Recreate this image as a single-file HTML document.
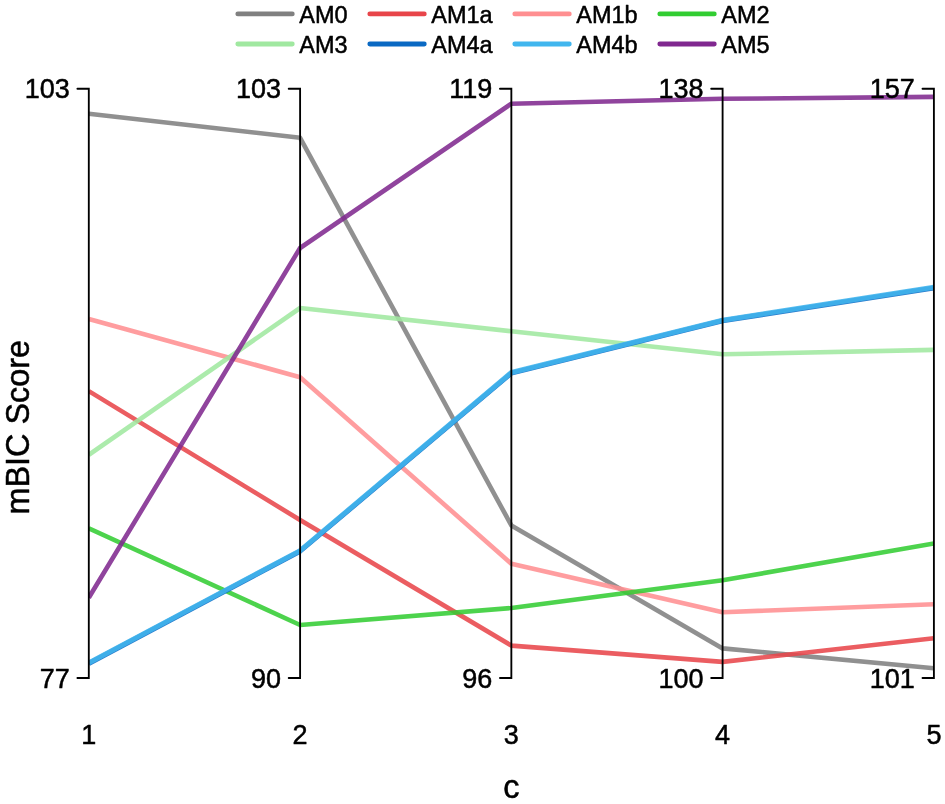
<!DOCTYPE html>
<html><head><meta charset="utf-8"><title>mBIC Score</title>
<style>
html,body{margin:0;padding:0;background:#fff;}
svg{display:block;}
text{font-family:"Liberation Sans",Arial,sans-serif;fill:#000;stroke:#000;stroke-width:0.5px;stroke-linejoin:round;}
.t{font-size:27px;}
.l{font-size:23.5px;}
.a{font-size:32.4px;}
</style></head><body>
<svg width="945" height="804" viewBox="0 0 945 804">
<rect width="945" height="804" fill="#fff"/>
<defs><clipPath id="c"><rect x="88.80" y="0" width="845.10" height="804"/></clipPath></defs>
<g clip-path="url(#c)" fill="none" stroke-width="4.60" stroke-linejoin="round" stroke-linecap="butt" stroke-opacity="0.87">
<polyline points="88.80,113.70 300.10,137.80 511.35,525.40 722.60,648.40 933.90,668.30" stroke="#808080"/>
<polyline points="88.80,391.10 300.10,520.00 511.35,645.60 722.60,661.90 933.90,638.30" stroke="#e8454a"/>
<polyline points="88.80,319.00 300.10,377.20 511.35,563.80 722.60,612.20 933.90,604.30" stroke="#ff8f91"/>
<polyline points="88.80,528.30 300.10,625.00 511.35,608.00 722.60,580.30 933.90,543.40" stroke="#32cd32"/>
<polyline points="88.80,454.80 300.10,308.00 511.35,331.30 722.60,354.30 933.90,349.90" stroke="#a0e8a0"/>
<polyline points="88.80,663.50 300.10,551.20 511.35,373.10 722.60,320.80 933.90,287.90" stroke="#0a69c3" stroke-width="5"/>
<polyline points="88.80,662.90 300.10,550.60 511.35,372.50 722.60,320.20 933.90,287.30" stroke="#41b6ee" stroke-width="5"/>
<polyline points="88.80,597.70 300.10,248.00 511.35,103.70 722.60,98.80 933.90,96.90" stroke="#80288f"/>
</g>
<g stroke="#000" stroke-width="1.85" fill="none" stroke-linecap="round">
<path d="M77.40 88.70H88.80V678.00H77.40"/>
<path d="M288.70 88.70H300.10V678.00H288.70"/>
<path d="M499.95 88.70H511.35V678.00H499.95"/>
<path d="M711.20 88.70H722.60V678.00H711.20"/>
<path d="M922.50 88.70H933.90V678.00H922.50"/>
</g>
<text class="t" text-anchor="end" x="69.70" y="98.20">103</text>
<text class="t" text-anchor="end" x="69.70" y="687.50">77</text>
<text class="t" text-anchor="end" x="281.00" y="98.20">103</text>
<text class="t" text-anchor="end" x="281.00" y="687.50">90</text>
<text class="t" text-anchor="end" x="492.25" y="98.20">119</text>
<text class="t" text-anchor="end" x="492.25" y="687.50">96</text>
<text class="t" text-anchor="end" x="703.50" y="98.20">138</text>
<text class="t" text-anchor="end" x="703.50" y="687.50">100</text>
<text class="t" text-anchor="end" x="914.80" y="98.20">157</text>
<text class="t" text-anchor="end" x="914.80" y="687.50">101</text>
<text class="t" text-anchor="middle" x="88.80" y="743.7">1</text>
<text class="t" text-anchor="middle" x="300.10" y="743.7">2</text>
<text class="t" text-anchor="middle" x="511.35" y="743.7">3</text>
<text class="t" text-anchor="middle" x="722.60" y="743.7">4</text>
<text class="t" text-anchor="middle" x="933.90" y="743.7">5</text>
<text class="a" text-anchor="middle" x="511.4" y="798.3">c</text>
<text class="a" text-anchor="middle" transform="translate(29.2,427.2) rotate(-90)">mBIC Score</text>
<g id="legend">
<line x1="237.80" y1="13.90" x2="292.30" y2="13.90" stroke="#808080" stroke-width="4.80" stroke-linecap="round"/>
<text class="l" x="299.30" y="22.70">AM0</text>
<line x1="369.80" y1="13.90" x2="424.30" y2="13.90" stroke="#e8454a" stroke-width="4.80" stroke-linecap="round"/>
<text class="l" x="431.30" y="22.70">AM1a</text>
<line x1="514.80" y1="13.90" x2="569.30" y2="13.90" stroke="#ff8f91" stroke-width="4.80" stroke-linecap="round"/>
<text class="l" x="576.30" y="22.70">AM1b</text>
<line x1="659.80" y1="13.90" x2="714.30" y2="13.90" stroke="#32cd32" stroke-width="4.80" stroke-linecap="round"/>
<text class="l" x="721.30" y="22.70">AM2</text>
<line x1="237.80" y1="44.00" x2="292.30" y2="44.00" stroke="#a0e8a0" stroke-width="4.80" stroke-linecap="round"/>
<text class="l" x="299.30" y="52.80">AM3</text>
<line x1="369.80" y1="44.00" x2="424.30" y2="44.00" stroke="#0a69c3" stroke-width="4.80" stroke-linecap="round"/>
<text class="l" x="431.30" y="52.80">AM4a</text>
<line x1="514.80" y1="44.00" x2="569.30" y2="44.00" stroke="#41b6ee" stroke-width="4.80" stroke-linecap="round"/>
<text class="l" x="576.30" y="52.80">AM4b</text>
<line x1="659.80" y1="44.00" x2="714.30" y2="44.00" stroke="#80288f" stroke-width="4.80" stroke-linecap="round"/>
<text class="l" x="721.30" y="52.80">AM5</text>
</g>
</svg></body></html>
